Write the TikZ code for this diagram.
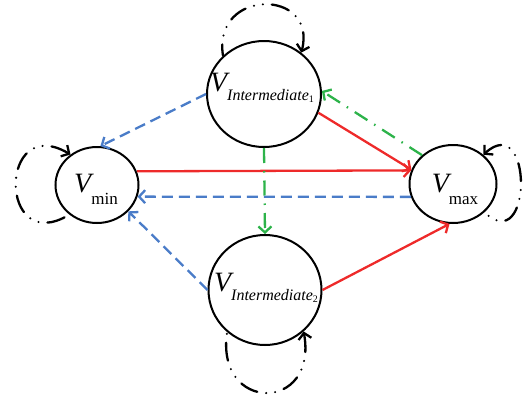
\documentclass[tikz,border=0pt]{standalone}
\usepackage{fontspec}
\setmainfont{Liberation Serif}
\usetikzlibrary{arrows.meta,shapes.geometric}
\definecolor{cred}{HTML}{EE2A2A}
\definecolor{cblue}{HTML}{4A7CC8}
\definecolor{cgreen}{HTML}{2DB34A}
\newcommand{\Vint}[1]{{\fontsize{28}{28}\selectfont\itshape V}\raisebox{-9pt}{\fontsize{16}{16}\selectfont\itshape Intermediate\raisebox{-2pt}{\fontsize{10}{10}\selectfont\upshape #1}}}
\newcommand{\Vsub}[1]{{\fontsize{28}{28}\selectfont\itshape V}\raisebox{-12pt}{\fontsize{17}{17}\selectfont #1}}
\begin{document}
\begin{tikzpicture}[x=1pt,y=-1pt,
  state/.style={draw,ellipse,line width=2pt,inner sep=0pt},
  tip/.style={-{Straight Barb[length=6pt,width=13pt]}},
  revtip/.style={{Straight Barb[length=6pt,width=13pt]}-},
  redline/.style={tip,draw=cred,line width=2.3pt},
  blueline/.style={tip,draw=cblue,line width=2.3pt,dash pattern=on 11pt off 6pt},
  greenline/.style={tip,draw=cgreen,line width=2.3pt,dash pattern=on 15pt off 8pt on 1.5pt off 8pt},
  loopline/.style={revtip,draw=black,line width=2.3pt,line cap=round,dash pattern=on 18pt off 9pt on 0pt off 9pt on 0pt off 9pt}]
\useasboundingbox (0,0) rectangle (530,402);
\node[state,minimum width=114pt,minimum height=106pt] (i1) at (264,94) {};
\node[state,minimum width=113pt,minimum height=110pt] (i2) at (265,290) {};
\node[state,minimum width=83pt,minimum height=76pt] (vmin) at (97,185) {};
\node[state,minimum width=87pt,minimum height=78pt] (vmax) at (453,184) {};
\node (l1) at (262,88) {\Vint{1}};
\node (l2) at (266,288) {\Vint{2}};
\node (lmin) at (96,189) {\Vsub{min}};
\node (lmax) at (455,189) {\Vsub{max}};
\draw[redline] (vmin.19) -- (vmax.162);
\draw[blueline] (vmax.197) -- (vmin.-16);
\draw[redline] (i1.-19) -- (vmax.161);
\draw[greenline] (vmax.137) -- (i1.3);
\draw[blueline] (i1.180) -- (vmin.85);
\draw[greenline] (i1.-90) -- (i2.90);
\draw[blueline] (i2.180) -- (vmin.-40);
\draw[redline] (i2.0) -- (vmax.-95);
\draw[loopline] (i1.48) .. controls (318,-12) and (212,-12) .. (i1.137);
\draw[loopline] (i2.-47) .. controls (318,413) and (215,413) .. (i2.228);
\draw[loopline] (vmin.131) .. controls (-2,112) and (-2,258) .. (vmin.227);
\draw[loopline] (vmax.44) .. controls (533,110) and (533,258) .. (vmax.-42);
\end{tikzpicture}
\end{document}
